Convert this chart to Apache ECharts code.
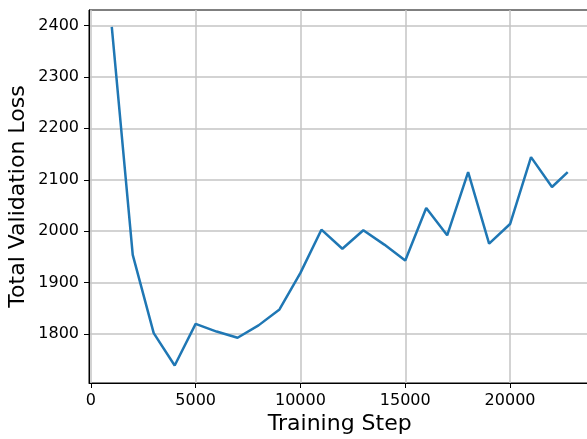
<!DOCTYPE html>
<html>
<head>
<meta charset="utf-8">
<script src="https://cdn.jsdelivr.net/npm/echarts@6/dist/echarts.min.js"></script>
<style>
html,body{margin:0;padding:0;background:#fff;}
#chart{width:587px;height:439px;}
</style>
</head>
<body>
<div id="chart"></div>
<script>
const steps = [1000, 2000, 3000, 4000, 5000, 6000, 7000, 8000, 9000, 10000, 11000, 12000, 13000, 14000, 15000, 16000, 17000, 18000, 19000, 20000, 21000, 22000, 22750];
const losses = [2397, 1954, 1802, 1739, 1820, 1805, 1793, 1817, 1848, 1919, 2003, 1966, 2002, 1974, 1943, 2045, 1992, 2115, 1976, 2014, 2144, 2086, 2115];
const xTicks = [0, 5000, 10000, 15000, 20000];
const yTicks = [1800, 1900, 2000, 2100, 2200, 2300, 2400];

const FONT = 'DejaVu Sans';
const chart = echarts.init(document.getElementById('chart'), null, {renderer: 'canvas'});
const data = steps.map((s, i) => [s, losses[i]]);

chart.setOption({
  animation: false,
  backgroundColor: '#fff',
  grid: {
    left: 89, top: 10, right: -3.5, bottom: 56,
    containLabel: false, outerBoundsMode: 'none',
    show: true, borderColor: '#000', borderWidth: 1, backgroundColor: 'transparent'
  },
  xAxis: {
    type: 'value',
    min: -87, max: 23837,
    splitNumber: 5,
    name: 'Training Step',
    nameLocation: 'middle',
    nameGap: 30,
    nameMoveOverlap: false,
    nameTextStyle: {fontFamily: FONT, fontSize: 22, color: '#000'},
    axisLine: {show: true, onZero: false, lineStyle: {color: '#000', width: 1}},
    axisTick: {show: true, length: 5, lineStyle: {color: '#000'}, customValues: xTicks},
    axisLabel: {fontFamily: FONT, fontSize: 16, color: '#000', margin: 10, customValues: xTicks, formatter: v => String(v)},
    splitLine: {show: true, lineStyle: {color: '#c4c4c4', width: 1.5}}
  },
  yAxis: {
    type: 'value',
    min: 1705, max: 2430,
    splitNumber: 7,
    name: 'Total Validation Loss',
    nameLocation: 'middle',
    nameGap: 60,
    nameMoveOverlap: false,
    nameTextStyle: {fontFamily: FONT, fontSize: 22, color: '#000'},
    axisLine: {show: true, onZero: false, lineStyle: {color: '#000', width: 1}},
    axisTick: {show: true, length: 5, lineStyle: {color: '#000'}, customValues: yTicks},
    axisLabel: {fontFamily: FONT, fontSize: 16, color: '#000', margin: 10, customValues: yTicks, formatter: v => String(v)},
    splitLine: {show: true, lineStyle: {color: '#c4c4c4', width: 1.5}}
  },
  series: [{
    type: 'line',
    data: data,
    showSymbol: false,
    symbol: 'none',
    lineStyle: {color: '#1f77b4', width: 2.5},
    itemStyle: {color: '#1f77b4'}
  }]
});
</script>
</body>
</html>
